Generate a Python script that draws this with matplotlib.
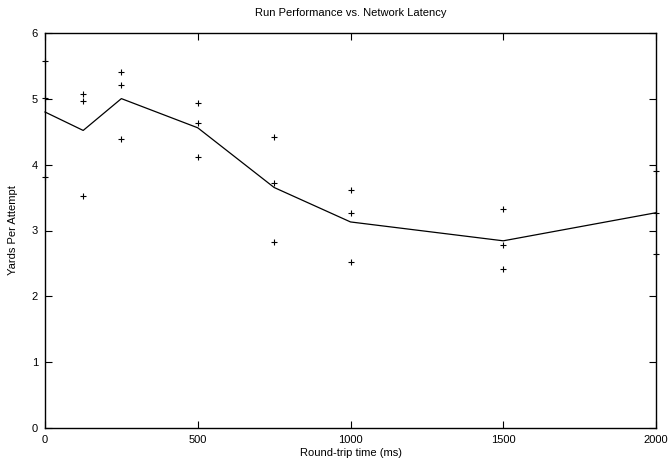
import matplotlib
matplotlib.use("Agg")
import matplotlib.pyplot as plt
import numpy as np

plt.rcParams['font.family'] = ['Liberation Sans', 'DejaVu Sans']

# round-trip latency (ms) and the three trial results at each setting
latency = [0, 125, 250, 500, 750, 1000, 1500, 2000]
trial_a = [5.57, 5.07, 5.41, 4.94, 4.42, 3.61, 3.33, 3.90]
trial_b = [5.02, 4.97, 5.21, 4.63, 3.72, 3.26, 2.78, 3.26]
trial_c = [3.81, 3.52, 4.39, 4.11, 2.82, 2.52, 2.42, 2.65]

x_ticks = [0, 500, 1000, 1500, 2000]
y_ticks = [0, 1, 2, 3, 4, 5, 6]

fig = plt.figure(figsize=(6.69, 4.71), dpi=100)
ax = fig.add_axes([45 / 669, 43 / 471, 611 / 669, 395 / 471])

# line goes through the mean of the trials
mean = np.mean([trial_a, trial_b, trial_c], axis=0)
ax.plot(latency, mean, color='black', lw=0.9, clip_on=False)

for trial in (trial_a, trial_b, trial_c):
    ax.plot(latency, trial, ls='none', marker='+', ms=4.6, mew=0.8,
            color='black', clip_on=False)

ax.set_xlim(0, 2000)
ax.set_ylim(0, 6)
ax.set_xticks(x_ticks)
ax.set_yticks(y_ticks)
ax.tick_params(direction='in', length=5, width=0.8, top=True, right=True,
               labelsize=8, pad=5)
for s in ax.spines.values():
    s.set_linewidth(1.0)

ax.set_title('Run Performance vs. Network Latency', fontsize=8, pad=12)
ax.set_xlabel('Round-trip time (ms)', fontsize=8, labelpad=2)
ax.set_ylabel('Yards Per Attempt', fontsize=8, labelpad=10)

fig.savefig('out.png', dpi=100)
